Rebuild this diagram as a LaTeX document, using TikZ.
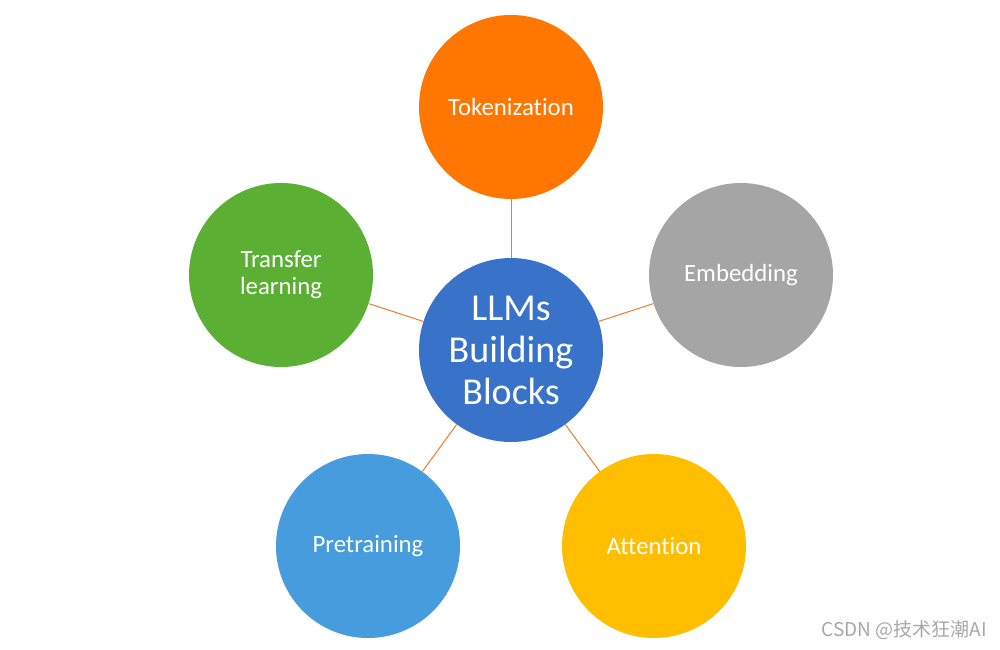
\documentclass[tikz,border=0pt]{standalone}
\usepackage{fontspec}
\setmainfont{Carlito}[Ligatures=NoCommon]
\newfontfamily\cjk{Noto Sans CJK SC}
\begin{document}
\begin{tikzpicture}[x=1pt,y=-1pt,
  blob/.style={circle,minimum size=184pt,inner sep=0pt,text=white,align=center,font=\fontsize{24.8}{27}\selectfont},
  link/.style={draw=linkc,line width=1pt}]
\definecolor{linkc}{HTML}{ED7D31}
\definecolor{cblue}{HTML}{3872C9}
\definecolor{corange}{HTML}{FF7700}
\definecolor{cgray}{HTML}{A5A5A5}
\definecolor{cyellow}{HTML}{FFBE00}
\definecolor{cltblue}{HTML}{469CDC}
\definecolor{cgreen}{HTML}{5BB034}
\definecolor{wm}{HTML}{A8A8A8}
\useasboundingbox (0,0) rectangle (1000,649);
\fill[white] (0,0) rectangle (1000,649);
\node[blob,fill=cblue,font=\fontsize{38}{42}\selectfont] (c) at (511,350) {LLMs\\Building\\Blocks};
\node[blob,fill=corange] (t) at (511,107) {Tokenization};
\node[blob,fill=cgray] (e) at (741,275) {Embedding};
\node[blob,fill=cyellow] (a) at (654,546) {Attention};
\node[blob,fill=cltblue] (p) at (368,546) {Pretraining};
\node[blob,fill=cgreen] (l) at (281,275) {Transfer\\learning};
\draw[link] (c) -- (t);
\draw[link] (c) -- (e);
\draw[link] (c) -- (a);
\draw[link] (c) -- (p);
\draw[link] (c) -- (l);
\node[anchor=east,text=wm,font=\cjk\fontsize{19}{22}\selectfont,inner sep=0pt] (w) at (987,630) {CSDN @技术狂潮AI};
\end{tikzpicture}
\end{document}
